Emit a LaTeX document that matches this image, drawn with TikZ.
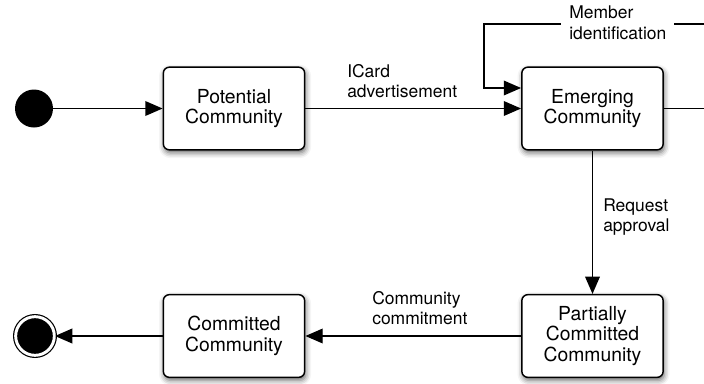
\documentclass[tikz,border=0pt]{standalone}
\usepackage{fontspec}
\setmainfont{TeX Gyre Heros}
\usetikzlibrary{arrows.meta}
\usetikzlibrary{shadows.blur}

\begin{document}
\begin{tikzpicture}[x=0.75pt,y=0.75pt,yscale=-1,xscale=1,
  state/.style={draw, line width=1.1pt, rounded corners=4.5pt, fill=white,
    minimum width=106pt, minimum height=62pt, align=center, inner sep=0pt,
    font=\fontsize{14.5}{15.5}\selectfont,
    blur shadow={shadow xshift=0.8pt, shadow yshift=-2.2pt, shadow blur radius=4pt, shadow opacity=60}},
  initstate/.style={circle, fill=black, minimum size=28.5pt, inner sep=0pt},
  finalstate/.style={circle, fill=black, draw=black, line width=0.9pt, double=white,
    double distance=2.2pt, minimum size=29pt, inner sep=0pt},
  trans/.style={line width=1.1pt, -{Triangle[length=13pt,width=11pt]}},
  lbl/.style={font=\fontsize{13.1}{15.5}\selectfont, align=left, inner sep=0pt}]
\useasboundingbox (0,0) rectangle (704,383);
\clip (0,0) rectangle (704,383);

% States
\node [initstate] (initial) at (34,108.5) {};
\node [state] (potential) at (234,108.5) {Potential\\Community};
\node [state] (emerging) at (592.5,108.5) {Emerging\\Community};
\node [state] (partial) at (592.5,336) {Partially\\Committed\\Community};
\node [state] (committed) at (234,336) {Committed\\Community};
\node [finalstate] (final) at (35,336) {};

% Transitions
\draw [trans] (initial) -- (potential);
\draw [trans] (potential) -- (emerging);
\draw [trans] (emerging) -- (partial);
\draw [trans] (partial) -- (committed);
\draw [trans] (committed) -- (final);

% Self loop on Emerging Community
\coordinate (loopTL) at (484,24);
\coordinate (loopIn) at (0,88);
\draw [trans] (emerging.east) -- ++(80,0) |- (loopTL) |- (emerging.west |- loopIn);

% Labels
\node [lbl, anchor=north west] (lblICard) at (347,64) {ICard\\advertisement};
\node [lbl, anchor=north west] (lblRequest) at (603,198) {Request\\approval};
\node [lbl, anchor=north west] (lblCommit) at (372,291) {Community\\commitment};
\node [lbl, anchor=west, fill=white, inner xsep=6pt, inner ysep=2pt] (lblMember) at (561,23) {Member\\identification};

\end{tikzpicture}
\end{document}
